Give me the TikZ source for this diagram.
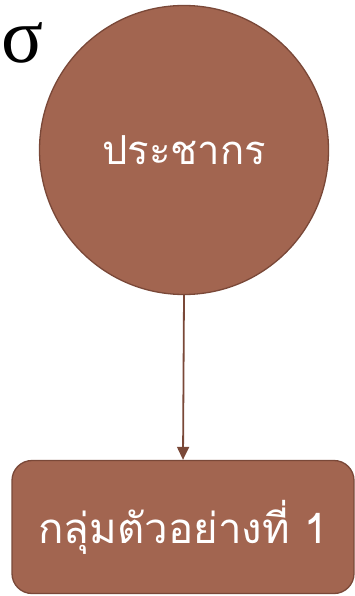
\documentclass[tikz,border=0pt]{standalone}
\usepackage{fontspec}
\setmainfont{Liberation Serif}
\newfontfamily\thaifont[Script=Thai]{Loma}
\usetikzlibrary{arrows.meta}
\definecolor{brfill}{RGB}{162,101,80}
\definecolor{brline}{RGB}{122,72,56}
\tikzset{
  shapebox/.style={fill=brfill,draw=brline,line width=1.3pt,text=white},
  conn/.style={draw=brline,line width=1.8pt,-{Triangle[length=13pt,width=12pt]}}
}
\begin{document}
\begin{tikzpicture}[x=1pt,y=-1pt]
\useasboundingbox (0,0) rectangle (355,596);
\node[shapebox,circle,minimum size=289pt,inner sep=0pt] (pop) at (184,150) {\thaifont\fontsize{40}{46}\selectfont ประชากร};
\node[shapebox,rounded corners=20pt,minimum width=342pt,minimum height=133pt,inner sep=0pt] (s1) at (183,527) {\thaifont\fontsize{42}{48}\selectfont กลุ่มตัวอย่างที่ 1};
\node[anchor=base west,inner sep=0pt] (sig) at (1,63) {\fontsize{78}{84}\selectfont σ};
\draw[conn] (pop.south) -- (s1.north);
\end{tikzpicture}
\end{document}
